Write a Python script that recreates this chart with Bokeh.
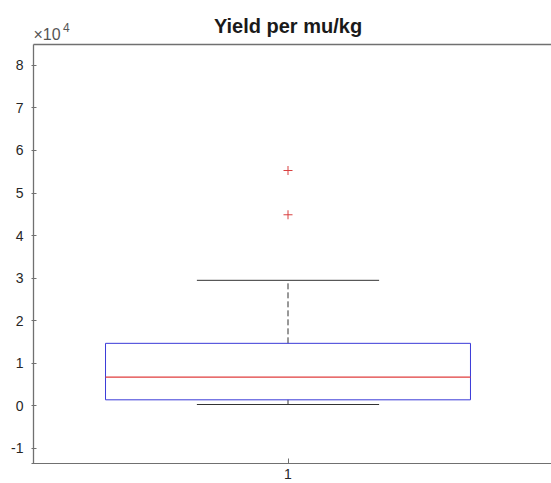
from bokeh.plotting import figure
from bokeh.models import Range1d, FixedTicker, Label
from bokeh.embed import file_html
from bokeh.resources import INLINE

# ---- data ----
group = [1]
group_labels = ["1"]
q1 = [1430]
median = [6740]
q3 = [14700]
whisker_low = [330]
whisker_high = [29500]
outliers_x = [1, 1]
outliers_y = [55300, 44900]
y_ticks = [-10000, 0, 10000, 20000, 30000, 40000, 50000, 60000, 70000, 80000]
y_tick_labels = ["-1", "0", "1", "2", "3", "4", "5", "6", "7", "8"]
title_text = "Yield per mu/kg"
scale_text = "\u00d710"
scale_exp = "4"

# axes limits (data units)
x_lo, x_hi = 0.5, 1.5177
y_lo, y_hi = -13530, 84900

FONT = "Liberation Sans"
AX = "#707070"
TXT = "#262626"

p = figure(width=551, height=483, output_backend="svg", toolbar_location=None, title=None,
           x_range=Range1d(0.49607, 1.51768), y_range=Range1d(y_lo, 95236),
           min_border_left=31, min_border_right=0, min_border_top=0, min_border_bottom=20)
p.outline_line_color = None
p.grid.visible = False
p.background_fill_color = "white"
p.border_fill_color = "white"

for ax in (p.xaxis[0], p.yaxis[0]):
    ax.axis_line_color = None
    ax.major_tick_line_color = AX
    ax.major_tick_in = 5
    ax.major_tick_out = 0
    ax.minor_tick_line_color = None
    ax.major_label_text_font = FONT
    ax.major_label_text_font_size = "14px"
    ax.major_label_text_color = TXT

p.xaxis[0].axis_line_color = AX
p.xaxis[0].axis_line_width = 1.2
p.yaxis[0].ticker = FixedTicker(ticks=y_ticks)
p.yaxis[0].major_label_overrides = {t: l for t, l in zip(y_ticks, y_tick_labels)}
p.yaxis[0].major_label_standoff = 8
p.xaxis[0].ticker = FixedTicker(ticks=group)
p.xaxis[0].major_label_overrides = {g: l for g, l in zip(group, group_labels)}
p.xaxis[0].major_label_standoff = 5

# left spine and top border of the axes box
p.segment(x0=[x_lo], y0=[y_lo], x1=[x_lo], y1=[y_hi], line_color=AX, line_width=1.3)
p.segment(x0=[x_lo], y0=[y_hi], x1=[1.52], y1=[y_hi], line_color=AX, line_width=1.3)

box_half = 0.3585
cap_half = 0.179

# whiskers
p.segment(x0=group, y0=q3, x1=group, y1=whisker_high, line_color="#333333",
          line_width=1, line_dash="6 3")
p.segment(x0=group, y0=whisker_low, x1=group, y1=q1, line_color="#333333",
          line_width=1, line_dash="6 3")
p.segment(x0=[g - cap_half for g in group], y0=whisker_high,
          x1=[g + cap_half for g in group], y1=whisker_high, line_color="#333333", line_width=1)
p.segment(x0=[g - cap_half for g in group], y0=whisker_low,
          x1=[g + cap_half for g in group], y1=whisker_low, line_color="#333333", line_width=1)

# box
p.quad(left=[g - box_half for g in group], right=[g + box_half for g in group],
       bottom=q1, top=q3, fill_color=None, line_color="#3a3ad8", line_width=1)
# median
p.segment(x0=[g - box_half for g in group], y0=median,
          x1=[g + box_half for g in group], y1=median, line_color="#e03c3c", line_width=1.2)
# outliers
p.scatter(x=outliers_x, y=outliers_y, marker="cross", size=9, line_color="#d94040",
          line_width=1)

# title and exponent
p.add_layout(Label(x=1.0, y=89200, text=title_text, text_align="center",
                   text_baseline="alphabetic", text_font=FONT, text_font_style="bold",
                   text_font_size="20px", text_color="#1a1a1a"))
p.add_layout(Label(x=0.5, y=87300, text=scale_text, text_align="left",
                   text_baseline="alphabetic", text_font=FONT,
                   text_font_size="16px", text_color="#555555"))
p.add_layout(Label(x=0.558, y=89000, text=scale_exp, text_align="left",
                   text_baseline="alphabetic", text_font=FONT,
                   text_font_size="12px", text_color="#555555"))

open("out.html", "w").write(file_html(p, INLINE))
